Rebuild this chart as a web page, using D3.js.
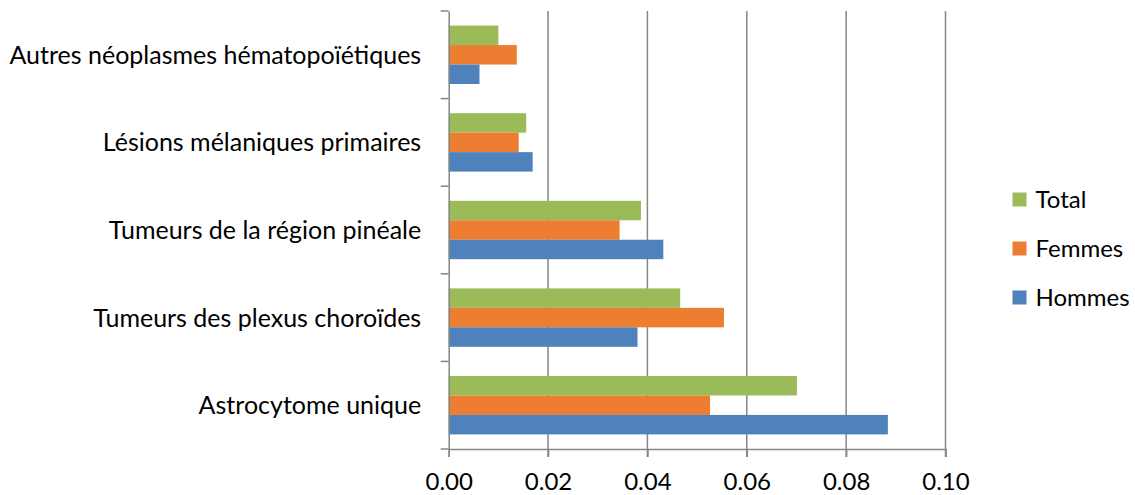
<!DOCTYPE html>
<html><head><meta charset="utf-8">
<script src="https://cdn.jsdelivr.net/npm/d3@7"></script>
<style>body{margin:0;background:#fff}svg{display:block}text{font-family:Lato,"Open Sans",sans-serif;fill:#000}</style>
</head><body><svg id="c" width="1135" height="495"></svg>
<script>
const categories = ["Autres néoplasmes hématopoïétiques","Lésions mélaniques primaires","Tumeurs de la région pinéale","Tumeurs des plexus choroïdes","Astrocytome unique"];
const seriesNames = ["Total","Femmes","Hommes"];
const totalValues = [0.0100,0.0156,0.0387,0.0466,0.0701];
const femmesValues = [0.0137,0.0141,0.0344,0.0554,0.0526];
const hommesValues = [0.0062,0.0169,0.0432,0.0380,0.0884];
const xTicks = [0,0.02,0.04,0.06,0.08,0.10];
const colors = ["#9BBB59","#ED7D31","#4F81BD"];

(function(){
const svg = d3.select("#c");
const pL = 448.7, pR = 945.5, pT = 11, pB = 449;
const fs = 24;
const x = d3.scaleLinear().domain([0,0.10]).range([pL,pR]);
const y = d3.scaleBand().domain(categories).range([pT,pB]).paddingInner(0).paddingOuter(0);
const inner = d3.scaleBand().domain(seriesNames).range([0,y.bandwidth()]).paddingInner(0).paddingOuter(0.75);
const data = [totalValues,femmesValues,hommesValues];

svg.append("g").selectAll("line").data(xTicks.slice(1)).join("line")
  .attr("x1",d=>x(d)).attr("x2",d=>x(d)).attr("y1",pT).attr("y2",pB+8)
  .attr("stroke","#868686").attr("stroke-width",1.5);

seriesNames.forEach((s,si)=>{
  svg.append("g").selectAll("rect").data(categories).join("rect")
    .attr("x",x(0)).attr("y",c=>y(c)+inner(s))
    .attr("width",(c,i)=>x(data[si][i])-x(0))
    .attr("height",inner.bandwidth())
    .attr("fill",colors[si]);
});

const xa = svg.append("g").attr("transform",`translate(0,${pB})`)
  .call(d3.axisBottom(x).tickValues(xTicks).tickFormat(d3.format(".2f")).tickSize(8));
xa.select(".domain").attr("stroke","#868686").attr("stroke-width",1.5);
xa.selectAll(".tick line").attr("stroke","#868686").attr("stroke-width",1.5);
xa.selectAll("text").attr("font-size",fs).attr("y",41).attr("dy",0);

const ya = svg.append("g").attr("transform",`translate(${pL},0)`)
  .call(d3.axisLeft(y).tickSize(0).tickPadding(27.5));
ya.select(".domain").attr("stroke","#868686").attr("stroke-width",1.5);
ya.selectAll("text").attr("font-size",25).attr("dy","0.36em");
svg.append("g").selectAll("line").data(d3.range(categories.length+1)).join("line")
  .attr("x1",pL-8).attr("x2",pL)
  .attr("y1",i=>pT+i*y.step()).attr("y2",i=>pT+i*y.step())
  .attr("stroke","#868686").attr("stroke-width",1.5);

const lg = svg.append("g").selectAll("g").data(seriesNames).join("g")
  .attr("transform",(d,i)=>`translate(1012.5,${199.5+i*49})`);
lg.append("rect").attr("x",0).attr("y",-7).attr("width",14).attr("height",14).attr("fill",(d,i)=>colors[i]);
lg.append("text").attr("x",23).attr("y",0).attr("dy","0.36em").attr("font-size",fs).text(d=>d);
})();
</script></body></html>
